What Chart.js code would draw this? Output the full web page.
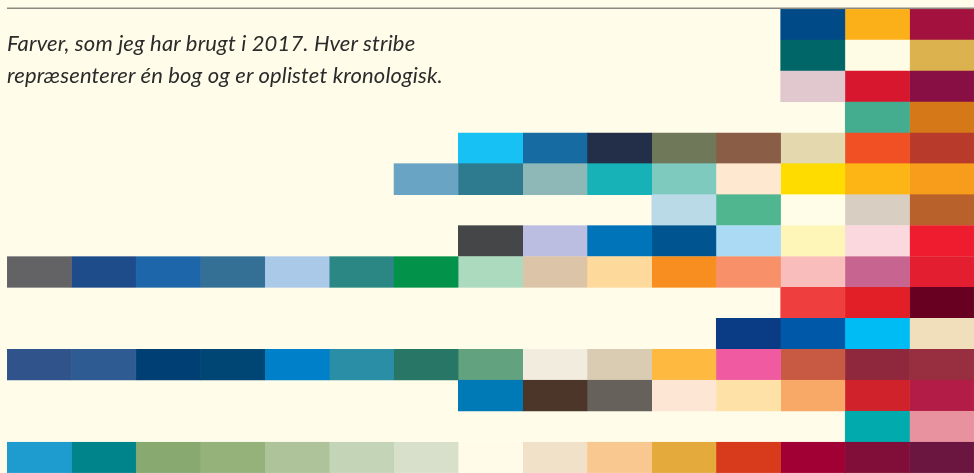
<!DOCTYPE html>
<html>
<head>
<meta charset="utf-8">
<script src="https://cdn.jsdelivr.net/npm/chart.js@4.4.0/dist/chart.umd.min.js"></script>
<style>
  html, body { margin: 0; padding: 0; background: #fffcea; }
  #wrap { position: relative; width: 974px; height: 473px; overflow: hidden; }
  #note {
    position: absolute; left: 7px; top: 27px;
    font-family: Lato, "Open Sans", sans-serif; font-style: italic;
    font-size: 22px; line-height: 32px; color: #2b2b2b; letter-spacing: 0.15px;
  }
</style>
</head>
<body>
<div id="wrap">
  <canvas id="farver" width="974" height="473"></canvas>
  <div id="note">Farver, som jeg har brugt i 2017. Hver stribe<br>repræsenterer én bog og er oplistet kronologisk.</div>
</div>
<script>
// en række pr. bog, farverne står højrestillet (sidste farve helt til højre)
const bog1 = ['#004a88', '#fbb01a', '#a3123e'];
const bog2 = ['#006668', '#fffce6', '#dbb24e'];
const bog3 = ['#e0c8ce', '#d7172d', '#880f43'];
const bog4 = ['#44ad90', '#d47818'];
const bog5 = ['#17c1f4', '#166ca2', '#232e48', '#70785a', '#8a5e46', '#e4d9ae', '#f15024', '#b83a2b'];
const bog6 = ['#6aa4c4', '#2e7a8e', '#8eb8b8', '#16b2b8', '#7ecabe', '#fee8d0', '#fedc00', '#fdb515', '#f89c1c'];
const bog7 = ['#badae8', '#50b690', '#fffce8', '#d8cec2', '#b8612a'];
const bog8 = ['#444648', '#bbbee0', '#0074b8', '#005590', '#aadaf4', '#fef6b8', '#fbd8de', '#ee1c2e'];
const bog9 = ['#636366', '#1e4c8a', '#1e66aa', '#347096', '#aac8e8', '#2a8784', '#02924a', '#acdabe',
              '#dcc4a8', '#fed99c', '#f88e20', '#f8906a', '#f9bdbc', '#c86490', '#e21e30'];
const bog10 = ['#ef3e3e', '#e21f26', '#680022'];
const bog11 = ['#093c84', '#0058a8', '#00bcf4', '#f1dfbb'];
const bog12 = ['#31538c', '#2e5c92', '#003f74', '#004674', '#0080c8', '#2a8ea6', '#277666', '#62a27e',
               '#f2ecde', '#d9ccb2', '#feba40', '#ef5aa0', '#c85a44', '#8f283c', '#972f40'];
const bog13 = ['#007ab6', '#4b3629', '#66615b', '#fee6d4', '#fee1a6', '#f8a968', '#cf222a', '#b21c46'];
const bog14 = ['#00aaad', '#e892a0'];
const bog15 = ['#1e9bcf', '#00848c', '#88aa70', '#94b27a', '#aec39a', '#c4d4b6', '#d8e0cc', '#fffbe8',
               '#f1e1c8', '#f8c890', '#e4aa3c', '#d83a1c', '#a00034', '#800e38', '#6a1640'];

const boeger = [bog1, bog2, bog3, bog4, bog5, bog6, bog7, bog8, bog9, bog10, bog11, bog12, bog13, bog14, bog15];
const antalFelter = 15;
const labels = boeger.map((b, i) => 'Bog ' + (i + 1));

// ét dataset pr. kolonne, hver celle er en flydende bar [c, c+1]
const datasets = [];
for (let c = 0; c < antalFelter; c++) {
  const data = [];
  const farver = [];
  boeger.forEach(bog => {
    const start = antalFelter - bog.length;
    if (c >= start) {
      data.push([c, c + 1]);
      farver.push(bog[c - start]);
    } else {
      data.push(null);
      farver.push('rgba(0,0,0,0)');
    }
  });
  datasets.push({
    data: data,
    backgroundColor: farver,
    borderColor: farver,
    borderWidth: 0.5,
    borderSkipped: false,
    barPercentage: 1,
    categoryPercentage: 1,
    grouped: false
  });
}

// grå streg over diagrammet
const topLinje = {
  id: 'topLinje',
  afterDraw(chart) {
    const ctx = chart.ctx;
    const a = chart.chartArea;
    ctx.save();
    ctx.strokeStyle = '#8a8a82';
    ctx.lineWidth = 1.5;
    ctx.beginPath();
    ctx.moveTo(a.left, a.top - 0.8);
    ctx.lineTo(a.right, a.top - 0.8);
    ctx.stroke();
    ctx.restore();
  }
};

new Chart(document.getElementById('farver'), {
  type: 'bar',
  data: { labels: labels, datasets: datasets },
  plugins: [topLinje],
  options: {
    indexAxis: 'y',
    responsive: false,
    animation: false,
    layout: { padding: { left: 7, top: 9, right: 0, bottom: 0 } },
    plugins: { legend: { display: false }, tooltip: { enabled: false } },
    scales: {
      x: { type: 'linear', min: 0, max: antalFelter, display: false },
      y: { display: false }
    }
  }
});
</script>
</body>
</html>
